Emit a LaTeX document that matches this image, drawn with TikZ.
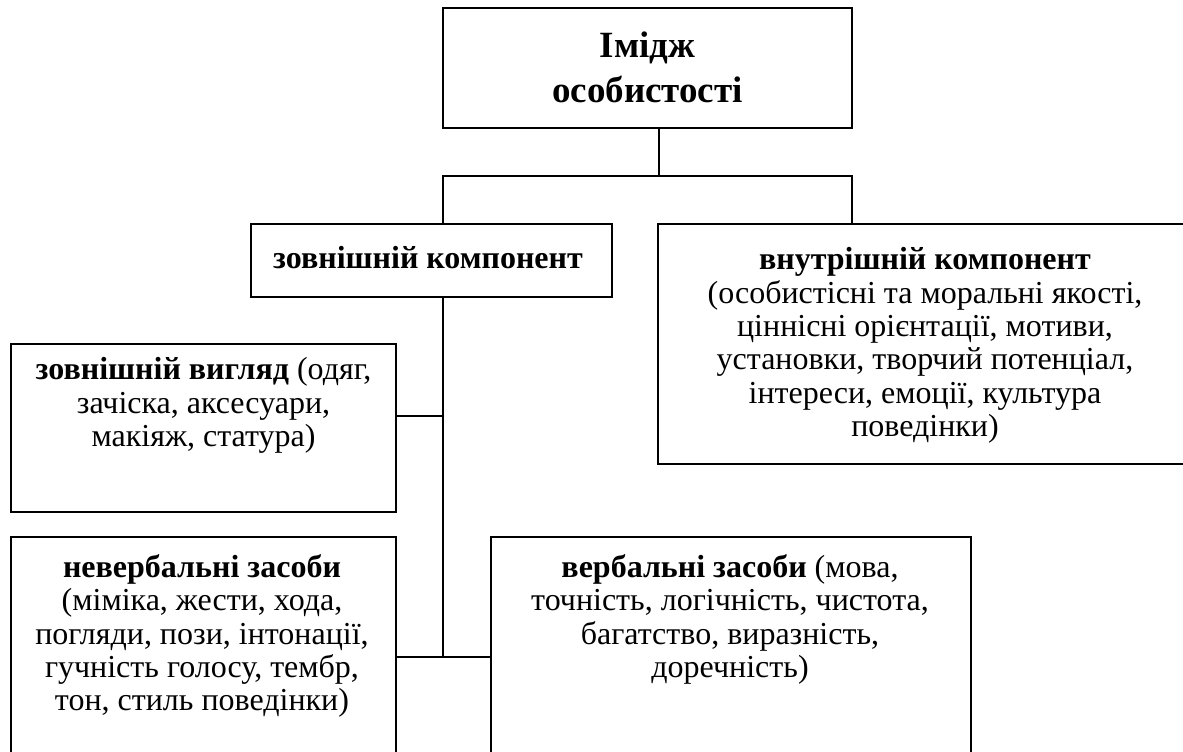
\documentclass[tikz,border=0pt]{standalone}
\usepackage{fontspec}
\setmainfont{Liberation Serif}
\tikzset{
  box/.style={draw, line width=0.7pt, rectangle, inner sep=0pt},
  txt/.style={align=center, inner sep=0pt, font=\fontsize{16pt}{16.7pt}\selectfont},
  ttl/.style={align=center, inner sep=0pt, font=\fontsize{18.5pt}{22.5pt}\selectfont\bfseries},
  conn/.style={line width=0.7pt}
}
\begin{document}
\begin{tikzpicture}[x=0.5pt, y=-0.5pt]
\clip (0,0) rectangle (1183,751);
\fill[white] (0,0) rectangle (1183,751);
% boxes
\node[box, minimum width=204.5pt, minimum height=60pt] (top) at (647.5,68) {};
\node[box, minimum width=180.5pt, minimum height=36.5pt] (zovn) at (431.5,260.5) {};
\node[box, minimum width=268pt, minimum height=120pt] (inner) at (926,344) {};
\node[box, minimum width=192.5pt, minimum height=84pt] (vyh) at (203.5,428) {};
\node[box, minimum width=192.5pt, minimum height=120pt] (nev) at (203.5,657) {};
\node[box, minimum width=240pt, minimum height=120pt] (verb) at (731,657) {};
% texts
\node[ttl] (ttop) at (647.5,67) {Імідж\\особистості};
\node[txt, font=\fontsize{16pt}{16.7pt}\selectfont\bfseries] (tzovn) at (428,258) {зовнішній компонент};
\node[txt, anchor=north] (tinner) at (925,247) {\textbf{внутрішній компонент}\\(особистісні та моральні якості,\\ціннісні орієнтації, мотиви,\\установки, творчий потенціал,\\інтереси, емоції, культура\\поведінки)};
\node[txt, anchor=north] (tvyh) at (203.5,357) {\textbf{зовнішній вигляд} (одяг,\\зачіска, аксесуари,\\макіяж, статура)};
\node[txt, anchor=north] (tnev) at (202,554) {\textbf{невербальні засоби}\\(міміка, жести, хода,\\погляди, пози, інтонації,\\гучність голосу, тембр,\\тон, стиль поведінки)};
\node[txt, anchor=north] (tverb) at (730,554) {\textbf{вербальні засоби} (мова,\\точність, логічність, чистота,\\багатство, виразність,\\доречність)};
% junctions
\coordinate (jm) at (659,176);
\coordinate (jl) at (443,176);
\coordinate (jr) at (852,176);
\coordinate (t1) at (443,416);
\coordinate (t2) at (443,657);
% connectors
\draw[conn] (top.south -| jm) -- (jm);
\draw[conn] (jl |- zovn.north) -- (jl) -- (jr) -- (jr |- inner.north);
\draw[conn] (t1 |- zovn.south) -- (t2);
\draw[conn] (vyh.east |- t1) -- (t1);
\draw[conn] (nev.east |- t2) -- (verb.west |- t2);
\end{tikzpicture}
\end{document}
